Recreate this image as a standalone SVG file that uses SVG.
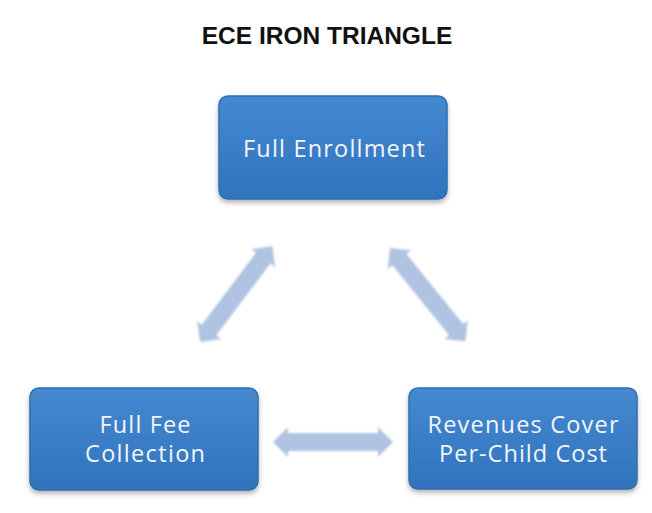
<svg xmlns="http://www.w3.org/2000/svg" width="652" height="513" viewBox="0 0 652 513">
<style>
.title{font-family:"Liberation Sans",Arial,sans-serif;font-weight:bold;font-size:24.5px;fill:#111;text-anchor:middle}
.lbl{font-family:"Open Sans","Noto Sans",sans-serif;font-size:23.5px;fill:#f2f6fc;text-anchor:middle}
.box{fill:url(#bg);stroke:#2e6db2;stroke-width:1.5}
.arr{fill:#b0c3e3;filter:url(#soft)}
</style>
<defs>
<linearGradient id="bg" x1="0" y1="0" x2="0" y2="1">
<stop offset="0" stop-color="#4589d0"/>
<stop offset="1" stop-color="#3073bd"/>
</linearGradient>
<filter id="sh" x="-10%" y="-10%" width="120%" height="130%">
<feDropShadow dx="0" dy="3" stdDeviation="2.5" flood-color="#000" flood-opacity="0.3"/>
</filter>
<filter id="soft" x="-20%" y="-50%" width="140%" height="200%">
<feGaussianBlur stdDeviation="1.3"/>
</filter>
<path id="dbl" d="M0,0 L15,-15 L15,-9 L105,-9 L105,-15 L120,0 L105,15 L105,9 L15,9 L15,15 Z"/>
</defs>
<text class="title" x="327" y="44">ECE IRON TRIANGLE</text>
<g id="connectors">
<use href="#dbl" class="arr" transform="translate(200,342) rotate(-53)"/>
<use href="#dbl" class="arr" transform="translate(390,248) rotate(51)"/>
<use href="#dbl" class="arr" transform="translate(273,442)"/>
</g>
<g id="full-enrollment">
<rect class="box" x="219" y="96" width="228" height="103" rx="9" filter="url(#sh)"/>
<text class="lbl" x="334" y="157" textLength="182" lengthAdjust="spacing">Full Enrollment</text>
</g>
<g id="full-fee-collection">
<rect class="box" x="30" y="388" width="228" height="102" rx="9" filter="url(#sh)"/>
<text class="lbl" x="145" y="433" textLength="91" lengthAdjust="spacing">Full Fee</text>
<text class="lbl" x="145" y="462" textLength="120" lengthAdjust="spacing">Collection</text>
</g>
<g id="revenues-cover">
<rect class="box" x="409" y="388" width="228" height="101" rx="9" filter="url(#sh)"/>
<text class="lbl" x="523" y="433" textLength="191" lengthAdjust="spacing">Revenues Cover</text>
<text class="lbl" x="523" y="462" textLength="168" lengthAdjust="spacing">Per-Child Cost</text>
</g>
</svg>
